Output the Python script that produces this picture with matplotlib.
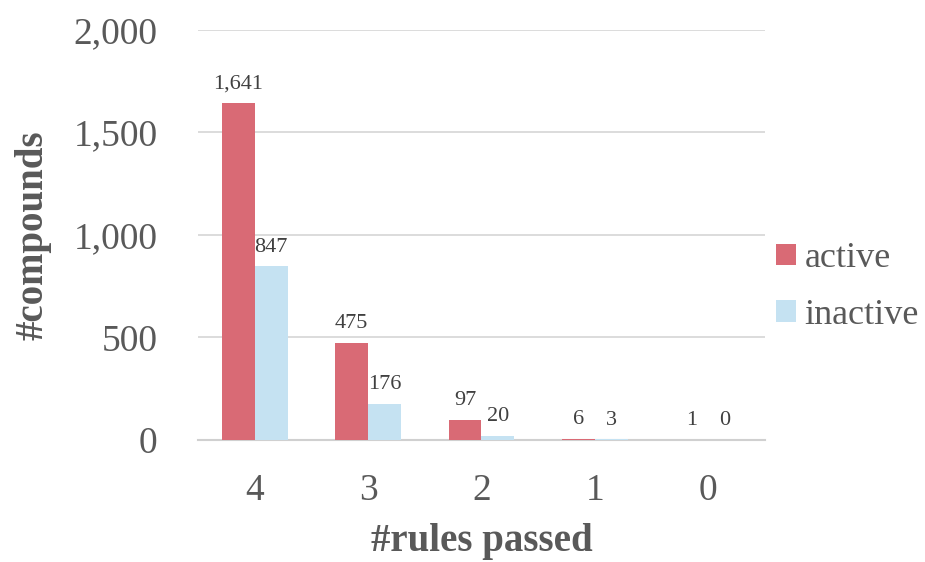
import matplotlib.pyplot as plt
import numpy as np

categories = ['4', '3', '2', '1', '0']
active = [1641, 475, 97, 6, 1]
inactive = [847, 176, 20, 3, 0]

plt.rcParams['font.family'] = ['Liberation Serif', 'DejaVu Serif']
txt = '#595959'

fig = plt.figure(figsize=(9.25, 5.62), dpi=100)
ax = fig.add_axes([0.214, 0.217, 0.613, 0.730])

x = np.arange(len(categories))
w = 0.29
b1 = ax.bar(x - w / 2, active, w, color='#D96A75', label='active', zorder=3)
b2 = ax.bar(x + w / 2, inactive, w, color='#C5E2F2', label='inactive', zorder=3)

# value labels
for bars in (b1, b2):
    for r in bars:
        v = r.get_height()
        ax.annotate(f'{int(v):,}', (r.get_x() + r.get_width() / 2, v),
                    xytext=(0, 7), textcoords='offset points',
                    ha='center', va='bottom', fontsize=16, color='#404040')

ax.set_xlim(-0.5, len(categories) - 0.5)
ax.set_ylim(0, 2000)
ax.set_yticks([0, 500, 1000, 1500, 2000])
ax.set_yticklabels([f'{v:,}' for v in [0, 500, 1000, 1500, 2000]])
ax.set_xticks(x)
ax.set_xticklabels(categories)
ax.tick_params(axis='y', length=0, pad=29, labelsize=27, labelcolor=txt)
ax.tick_params(axis='x', length=0, pad=24, labelsize=27, labelcolor=txt)

ax.grid(axis='y', color='#D9D9D9', linewidth=1.3, zorder=0)
for s in ['top', 'right', 'left']:
    ax.spines[s].set_visible(False)
ax.spines['bottom'].set_color('#D0D0D0')
ax.spines['bottom'].set_linewidth(1.5)

ax.set_ylabel('#compounds', fontsize=28, fontweight='bold', color=txt, labelpad=16)
ax.set_xlabel('#rules passed', fontsize=28, fontweight='bold', color=txt, labelpad=11)

ax.legend(loc='center left', bbox_to_anchor=(1.019, 0.373), frameon=False,
          fontsize=26, labelcolor=txt, handlelength=0.55, handleheight=0.55,
          handletextpad=0.25, labelspacing=0.65, borderaxespad=0, borderpad=0)

fig.savefig('out.png', dpi=100)
